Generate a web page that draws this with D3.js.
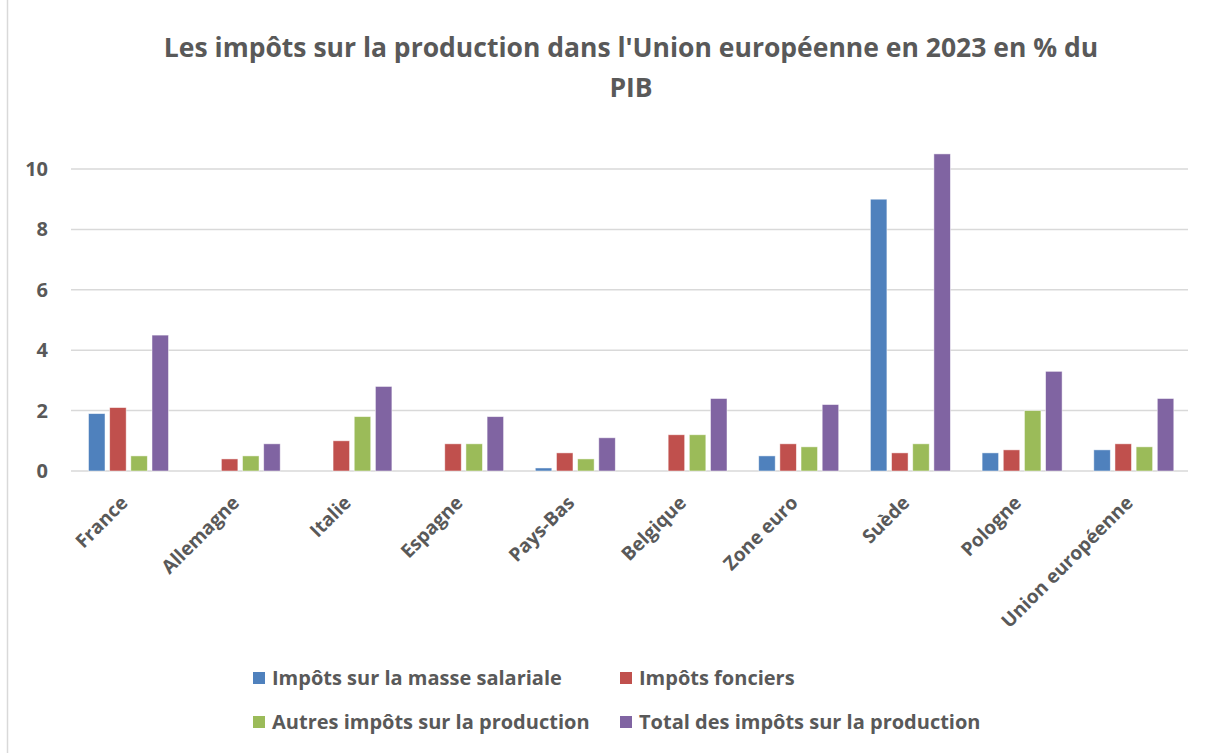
<!DOCTYPE html>
<html>
<head>
<meta charset="utf-8">
<script src="https://cdn.jsdelivr.net/npm/d3@7"></script>
<style>
  body { margin: 0; background: #fff; }
  text { font-family: "Open Sans", sans-serif; font-weight: bold; fill: #595959; }
</style>
</head>
<body>
<script>
// données
const pays = ["France", "Allemagne", "Italie", "Espagne", "Pays-Bas", "Belgique", "Zone euro", "Suède", "Pologne", "Union européenne"];
const series = ["Impôts sur la masse salariale", "Impôts fonciers", "Autres impôts sur la production", "Total des impôts sur la production"];
const masseSalariale = [1.9, 0, 0, 0, 0.1, 0, 0.5, 9.0, 0.6, 0.7];
const fonciers = [2.1, 0.4, 1.0, 0.9, 0.6, 1.2, 0.9, 0.6, 0.7, 0.9];
const autres = [0.5, 0.5, 1.8, 0.9, 0.4, 1.2, 0.8, 0.9, 2.0, 0.8];
const total = [4.5, 0.9, 2.8, 1.8, 1.1, 2.4, 2.2, 10.5, 3.3, 2.4];
const yTicks = [0, 2, 4, 6, 8, 10];
const couleurs = ["#4F81BD", "#C0504D", "#9BBB59", "#8064A2"];

const valeurs = [masseSalariale, fonciers, autres, total];
const data = pays.map((p, i) => ({ pays: p, vals: valeurs.map(v => v[i]) }));

const width = 1212, height = 753;
const svg = d3.select("body").append("svg").attr("width", width).attr("height", height);

// cadre (seul le bord gauche est visible)
svg.append("line")
  .attr("x1", 7.5).attr("x2", 7.5).attr("y1", 0).attr("y2", height)
  .attr("stroke", "#d9d9d9").attr("stroke-width", 1.5);

// titre
const titre = svg.append("text")
  .attr("text-anchor", "middle")
  .style("font-size", "26.5px");
titre.append("tspan").attr("x", 631).attr("y", 57)
  .text("Les impôts sur la production dans l'Union européenne en 2023 en % du");
titre.append("tspan").attr("x", 631).attr("y", 97).text("PIB");

// échelles
const x0 = d3.scaleBand().domain(pays).range([71, 1188]);
const x1 = d3.scaleBand().domain(d3.range(4)).range([17.5, 97.5]).paddingInner(0.22);
const y = d3.scaleLinear().domain([0, 10]).range([471, 169]);

// grille
svg.append("g").selectAll("line").data(yTicks).join("line")
  .attr("x1", 71).attr("x2", 1188)
  .attr("y1", d => y(d)).attr("y2", d => y(d))
  .attr("stroke", "#d9d9d9").attr("stroke-width", 1.5);

// axe y
const yAxis = svg.append("g").attr("transform", "translate(48,0)")
  .call(d3.axisLeft(y).tickValues(yTicks).tickSize(0).tickPadding(0));
yAxis.select(".domain").remove();
yAxis.selectAll("text").style("font-size", "20px").attr("fill", "#595959").attr("font-family", null);

// barres
svg.append("g").selectAll("g").data(data).join("g")
  .attr("transform", d => `translate(${x0(d.pays)},0)`)
  .selectAll("rect").data(d => d.vals.map((v, k) => ({ v, k })).filter(e => e.v > 0)).join("rect")
  .attr("x", d => x1(d.k))
  .attr("width", x1.bandwidth())
  .attr("y", d => y(d.v))
  .attr("height", d => y(0) - y(d.v))
  .attr("fill", d => couleurs[d.k])
  .attr("stroke", "#fff").attr("stroke-opacity", 0.6).attr("stroke-width", 0.8);

// étiquettes catégories
svg.append("g").selectAll("text").data(pays).join("text")
  .attr("text-anchor", "end")
  .style("font-size", "19px")
  .attr("transform", d => `translate(${x0(d) + x0.bandwidth() / 2 + 2},504) rotate(-45)`)
  .text(d => d);

// légende
const legend = svg.append("g").selectAll("g").data(series).join("g")
  .attr("transform", (d, i) => `translate(${i % 2 === 0 ? 253 : 620},${i < 2 ? 678 : 722})`);
legend.append("rect").attr("x", 0).attr("y", -6).attr("width", 12).attr("height", 12)
  .attr("fill", (d, i) => couleurs[i]);
legend.append("text").attr("x", 19).attr("dy", "0.36em").style("font-size", "20px").text(d => d);
</script>
</body>
</html>
